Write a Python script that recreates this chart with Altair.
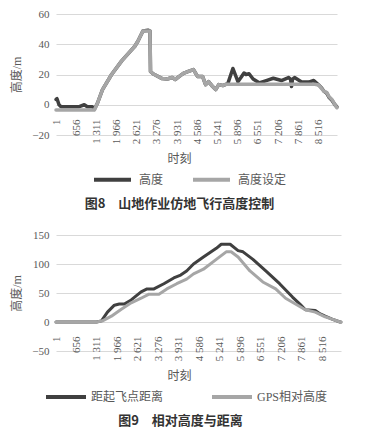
import altair as alt
import pandas as pd

# ---------------- data ----------------
TICKS = [1, 656, 1311, 1966, 2621, 3276, 3931, 4586, 5241, 5896, 6551, 7206, 7861, 8516]
X_DOMAIN = [1, 9120]

# Figure 8: 高度设定 (setpoint)
F8_T_SET = [1, 1247, 1346, 1510, 1805, 2133, 2395, 2559, 2658, 2822, 3051, 3068, 3150,
            3445, 3609, 3773, 3871, 4003, 4134, 4298, 4462, 4593, 4757, 4855, 4954,
            5085, 5183, 5282, 5413, 5511, 8398, 8529, 8627, 8693, 8791, 8857, 8955,
            9054, 9119]
F8_H_SET = [-3.5, -3.5, 1, 10, 20, 29, 35, 38.7, 42, 48.7, 48.7, 22, 20.5,
            17.3, 17, 18, 16.7, 18.7, 20.7, 22, 23.3, 18.7, 18.7, 13.3, 15.3,
            12, 10, 13.3, 12.7, 13.5, 13.5, 13, 10.5, 9, 8, 5.5, 3.5,
            0, -2]

# Figure 8: 高度 (actual height)
F8_T_ACT = [1, 34, 99, 165, 755, 919, 1018, 1182, 1247, 1346, 1510, 1805, 2133, 2395,
            2559, 2658, 2822, 2986, 3051, 3068, 3150, 3445, 3609, 3773, 3871, 4003,
            4134, 4298, 4462, 4593, 4757, 4855, 4954, 5085, 5183, 5282, 5413, 5511,
            5577, 5741, 5905, 6003, 6102, 6167, 6266, 6397, 6594, 6824, 7053, 7316,
            7545, 7611, 7644, 7677, 7742, 7972, 8201, 8365, 8529, 8627, 8693, 8791,
            8857, 8955, 9054, 9119]
F8_H_ACT = [3.5, 4, 0, -1.3, -1.3, 0, -1.3, -1.3, -3, 1, 10, 20, 29, 35,
            38.7, 42, 48.7, 49.3, 48.7, 22, 20.5, 17.3, 17, 18, 16.7, 18.7,
            20.7, 22, 23.3, 18.7, 18.7, 13.3, 15.3, 12, 10, 13.3, 12.7, 13.5,
            14, 24, 15.3, 18, 21, 20, 20.5, 17, 14.5, 16, 17.5, 16,
            18, 17, 12, 17, 18, 15, 15, 16, 13, 11, 9, 7.5,
            5, 3, 0, -1.5]

# Figure 9: 距起飞点距离 (distance to take-off point)
F9_T_DIST = [1, 1299, 1457, 1647, 1869, 2027, 2186, 2407, 2724, 2914, 3135, 3452,
             3769, 3990, 4180, 4402, 4718, 5130, 5288, 5573, 5827, 5985, 6302, 6713,
             7156, 7568, 7821, 7979, 8296, 8454, 8613, 8835, 9087, 9119]
F9_V_DIST = [0, 0, 2, 17, 29, 31, 31, 38, 52, 57, 57, 66,
             76, 81, 88, 100, 112, 127, 134, 134, 123, 121, 108, 88,
             66, 43, 30, 21, 20, 14, 10, 5, 0, 0]

# Figure 9: GPS相对高度 (GPS relative height)
F9_T_GPS = [1, 1299, 1489, 1774, 2091, 2407, 2724, 2977, 3294, 3547, 3864, 4180,
            4402, 4718, 5130, 5447, 5605, 5827, 6207, 6618, 7030, 7346, 7663, 7979,
            8296, 8613, 8835, 9087, 9119]
F9_V_GPS = [0, 0, 2, 10, 22, 33, 41, 48, 48, 57, 66, 74,
            83, 91, 108, 121, 121, 112, 88, 69, 57, 41, 31, 21,
            17, 9, 5, 0, 0]

F8_NAMES = ["高度", "高度设定"]
F9_NAMES = ["距起飞点距离", "GPS相对高度"]
COLORS = ["#404040", "#a6a6a6"]

SERIF = "'Liberation Serif', 'DejaVu Serif', 'Noto Sans CJK SC', serif"
SANS = "'Noto Sans CJK SC', sans-serif"
TXT = "#595959"


def frame(names, ts, vs):
    rows = []
    for n, tl, vl in zip(names, ts, vs):
        for t, v in zip(tl, vl):
            rows.append({"s": n, "t": t, "v": v})
    return pd.DataFrame(rows)


def panel(df, names, ydom, yticks, width, height, x_offset, stroke,
          leg_x, leg_y, leg_gap, leg_off, leg_len, caption, cap_dx, cap_offset):
    color = alt.Color(
        "s:N",
        scale=alt.Scale(domain=names, range=COLORS),
        legend=alt.Legend(
            title=None, orient="none", direction="horizontal",
            legendX=leg_x, legendY=leg_y, padding=0,
            symbolType="stroke", symbolStrokeWidth=4, symbolSize=leg_len * leg_len,
            columnPadding=leg_gap, labelOffset=leg_off,
            labelFont=SERIF, labelFontSize=12, labelColor=TXT,
        ),
    )
    x = alt.X(
        "t:Q",
        scale=alt.Scale(domain=X_DOMAIN, nice=False, zero=False),
        axis=alt.Axis(
            values=TICKS, labelAngle=-90,
            labelExpr="replace(format(datum.value, ','), ',', ' ')",
            grid=False, domain=False, ticks=False, offset=x_offset,
            labelPadding=0, labelFont=SERIF, labelFontSize=11, labelColor=TXT,
            title="时刻", titleFont=SERIF, titleFontSize=12, titleColor=TXT,
            titleFontWeight="normal", titlePadding=10, titleX=123,
        ),
    )
    y = alt.Y(
        "v:Q",
        scale=alt.Scale(domain=ydom, nice=False, zero=False),
        axis=alt.Axis(
            values=yticks, grid=True, gridColor="#d9d9d9", gridWidth=1,
            domain=False, ticks=False, labelPadding=7,
            labelFont=SERIF, labelFontSize=11, labelColor=TXT,
            title="高度/m", titleFont=SERIF, titleFontSize=12, titleColor=TXT,
            titleFontWeight="normal", titlePadding=8,
        ),
    )
    layers = [
        alt.Chart(df)
        .transform_filter(alt.datum.s == n)
        .mark_line(strokeWidth=stroke, strokeJoin="round", strokeCap="round")
        .encode(x=x, y=y, color=color)
        for n in names
    ]
    return alt.layer(*layers).properties(
        width=width, height=height,
        title=alt.TitleParams(
            text=caption, orient="bottom", anchor="middle", frame="group",
            dx=cap_dx, offset=cap_offset, font=SANS, fontSize=13,
            fontWeight="bold", color="#333333",
        ),
    )


df8 = frame(F8_NAMES, [F8_T_ACT, F8_T_SET], [F8_H_ACT, F8_H_SET])
df9 = frame(F9_NAMES, [F9_T_DIST, F9_T_GPS], [F9_V_DIST, F9_V_GPS])

c8 = panel(df8, F8_NAMES, [-20, 60], [-20, 0, 20, 40, 60], 281, 121, -16, 3.5,
           36, 145, 21, 6, 37, "图8\u3000山地作业仿地飞行高度控制", -17, 10)
c9 = panel(df9, F9_NAMES, [-50, 150], [-50, 0, 50, 100, 150], 285, 116, -15, 3,
           -12, 140, 40, 3, 40, "图9\u3000相对高度与距离", -18, 10)

chart = (
    alt.vconcat(c8, c9, spacing=18)
    .resolve_scale(color="independent", x="independent", y="independent")
    .resolve_legend(color="independent")
    .properties(padding={"left": 2, "top": 0, "right": 0, "bottom": 0}, background="white")
    .configure_view(stroke=None)
)

chart.save("out.html", embed_options={"renderer": "svg", "actions": False})
